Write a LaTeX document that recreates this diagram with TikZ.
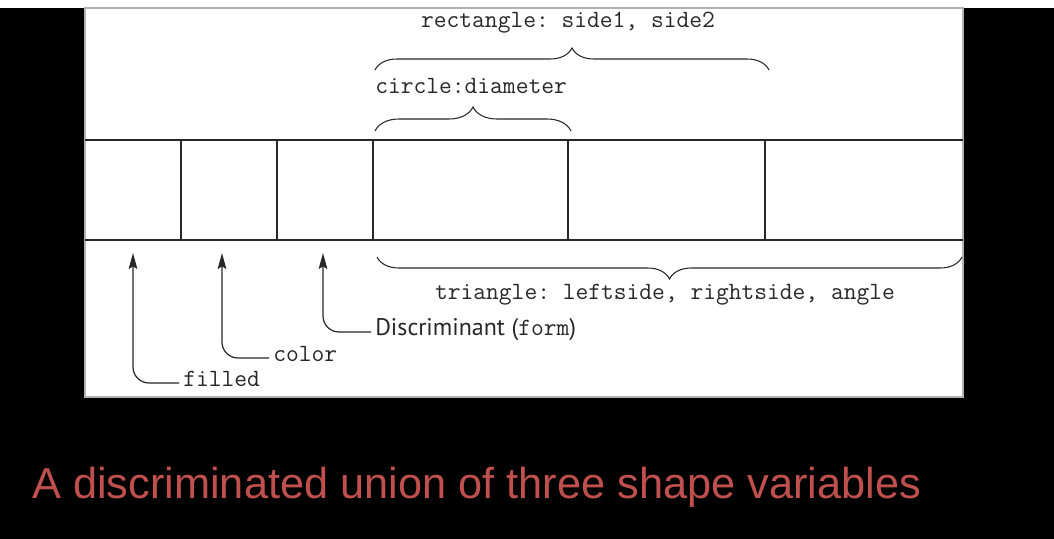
\documentclass[tikz,border=0pt]{standalone}
\usepackage{fontspec}
\setmainfont{Liberation Sans}
\newfontfamily\discfont{PT Sans}
\usetikzlibrary{decorations.pathreplacing,arrows.meta}
\definecolor{capred}{RGB}{192,80,77}
\definecolor{ink}{RGB}{40,40,40}
\newcommand\monofnt{\ttfamily\fontsize{18.6}{20}\selectfont\frenchspacing}
\begin{document}
\begin{tikzpicture}[x=0.75pt,y=-0.75pt,
  tbl/.style={draw=ink,line width=0.9pt},
  brc/.style={draw=ink,line width=0.8pt,decorate},
  mono/.style={font=\monofnt,text=ink,inner sep=0pt},
  lbl/.style={mono,inner xsep=3pt,inner ysep=0pt,anchor=mid west},
  arr/.style={draw=ink,line width=0.9pt,rounded corners=12pt,-{Stealth[length=12pt,width=6.5pt,inset=2pt]}}]
\useasboundingbox (0,0) rectangle (1054,539);
\fill[black] (0,0) rectangle (1054,539);
\fill[white] (0,0) rectangle (1054,8);
\fill[white] (85,8) rectangle (963,397);
\draw[gray!60,line width=0.8pt] (85,8) rectangle (963,397);
% table
\draw[tbl] (85,140) -- (963,140);
\draw[tbl] (85,240) -- (963,240);
\foreach \x in {181,277,373,568,765} \draw[tbl] (\x,140) -- (\x,240);
% braces
\draw[brc,decoration={brace,amplitude=16.5pt}] (375,70) -- (769,70);
\draw[brc,decoration={brace,amplitude=18pt}] (375,131) -- (571,131);
\draw[brc,decoration={brace,amplitude=16.5pt}] (962,257) -- (377,257);
\node[mono,anchor=base] (rect) at (568,27) {rectangle: side1, side2};
\node[mono,anchor=base west] (circ) at (375,93) {circle:diameter};
\node[mono,anchor=base] (tri) at (665,299) {triangle: leftside, rightside, angle};
% arrows
\coordinate (tipF) at (133,253);
\coordinate (tipC) at (222,253);
\coordinate (tipD) at (323,253);
\node[lbl] (filled) at (179,383) {filled};
\node[lbl] (color) at (269,358) {color};
\node[lbl,font=\discfont\fontsize{18}{20}\selectfont] (disc) at (371,332) {Discriminant ({\monofnt form})};
\draw[arr] (filled.mid west) -| (tipF);
\draw[arr] (color.mid west) -| (tipC);
\draw[arr] (disc.mid west) -| (tipD);
% caption
\node[anchor=base west,inner sep=0pt,text=capred,font=\fontsize{32.5}{38}\selectfont] (cap) at (32,498) {A discriminated union of three shape variables};
\end{tikzpicture}
\end{document}
